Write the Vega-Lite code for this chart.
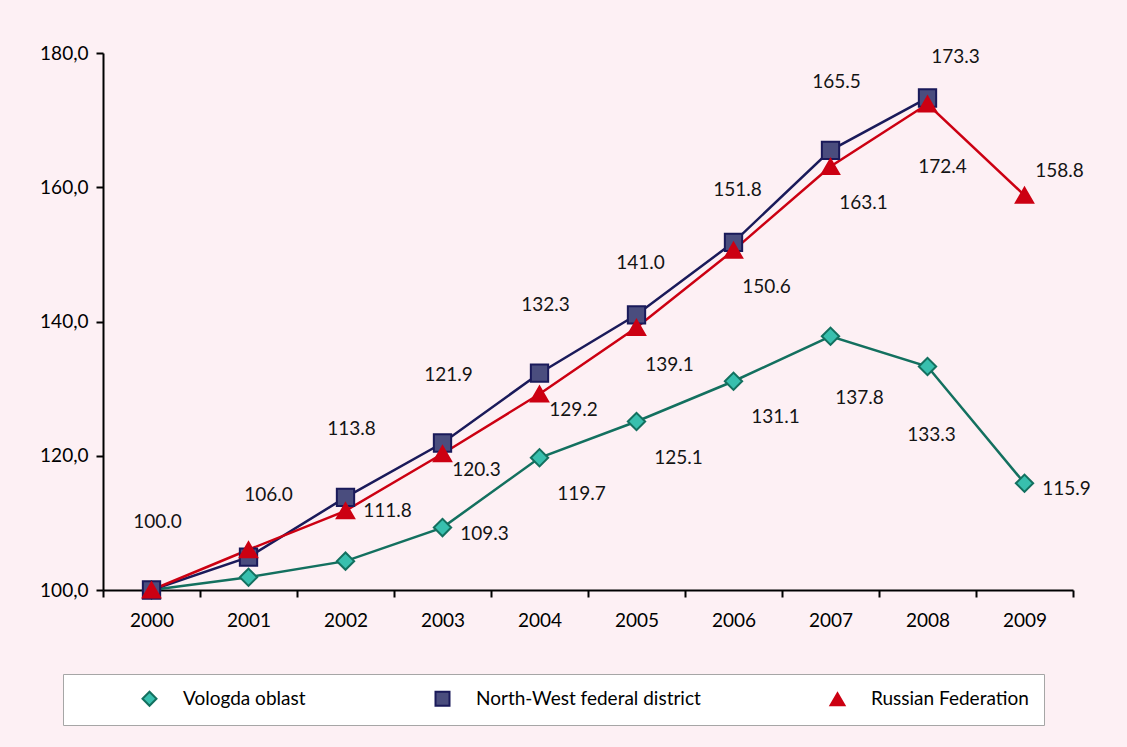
{
  "$schema": "https://vega.github.io/schema/vega-lite/v6.json",
  "width": 970,
  "height": 537,
  "autosize": {"type": "none"},
  "padding": {"left": 103, "top": 53, "right": 54, "bottom": 157},
  "background": "#fdf0f4",
  "config": {
    "view": {"stroke": null},
    "font": "Lato",
    "text": {"font": "Lato", "fontSize": 19, "color": "#141414", "align": "center", "baseline": "middle"},
    "axis": {
      "title": null,
      "domainColor": "#000000",
      "domainWidth": 2,
      "tickColor": "#000000",
      "tickWidth": 2,
      "tickSize": 7,
      "labelFont": "Lato",
      "labelFontSize": 19,
      "labelColor": "#000000",
      "grid": false
    },
    "legend": {
      "title": null,
      "orient": "none",
      "legendX": -40,
      "legendY": 621,
      "direction": "horizontal",
      "columns": 3,
      "columnPadding": 65,
      "padding": 15,
      "fillColor": "#ffffff",
      "strokeColor": "#a6a6a6",
      "symbolSize": 196,
      "symbolStrokeWidth": 2,
      "symbolOffset": 62,
      "labelOffset": 24,
      "labelFont": "Lato",
      "labelFontSize": 19,
      "labelColor": "#000000",
      "labelLimit": 400
    }
  },
  "datasets": {
    "d": [
      {"series": "Vologda oblast", "year": "2000", "value": 100.0},
      {"series": "Vologda oblast", "year": "2001", "value": 101.9},
      {"series": "Vologda oblast", "year": "2002", "value": 104.3},
      {"series": "Vologda oblast", "year": "2003", "value": 109.3},
      {"series": "Vologda oblast", "year": "2004", "value": 119.7},
      {"series": "Vologda oblast", "year": "2005", "value": 125.1},
      {"series": "Vologda oblast", "year": "2006", "value": 131.1},
      {"series": "Vologda oblast", "year": "2007", "value": 137.8},
      {"series": "Vologda oblast", "year": "2008", "value": 133.3},
      {"series": "Vologda oblast", "year": "2009", "value": 115.9},
      {"series": "North-West federal district", "year": "2000", "value": 100.0},
      {"series": "North-West federal district", "year": "2001", "value": 104.9},
      {"series": "North-West federal district", "year": "2002", "value": 113.8},
      {"series": "North-West federal district", "year": "2003", "value": 121.9},
      {"series": "North-West federal district", "year": "2004", "value": 132.3},
      {"series": "North-West federal district", "year": "2005", "value": 141.0},
      {"series": "North-West federal district", "year": "2006", "value": 151.8},
      {"series": "North-West federal district", "year": "2007", "value": 165.5},
      {"series": "North-West federal district", "year": "2008", "value": 173.3},
      {"series": "Russian Federation", "year": "2000", "value": 100.0},
      {"series": "Russian Federation", "year": "2001", "value": 106.0},
      {"series": "Russian Federation", "year": "2002", "value": 111.8},
      {"series": "Russian Federation", "year": "2003", "value": 120.3},
      {"series": "Russian Federation", "year": "2004", "value": 129.2},
      {"series": "Russian Federation", "year": "2005", "value": 139.1},
      {"series": "Russian Federation", "year": "2006", "value": 150.6},
      {"series": "Russian Federation", "year": "2007", "value": 163.1},
      {"series": "Russian Federation", "year": "2008", "value": 172.4},
      {"series": "Russian Federation", "year": "2009", "value": 158.8}
    ]
  },
  "data": {"name": "d"},
  "encoding": {
    "x": {
      "field": "year",
      "type": "ordinal",
      "scale": {"type": "band", "paddingInner": 0, "paddingOuter": 0},
      "axis": {"tickBand": "extent", "labelAngle": 0, "labelPadding": 14}
    },
    "y": {
      "field": "value",
      "type": "quantitative",
      "scale": {"domain": [100, 180], "nice": false, "zero": false},
      "axis": {
        "values": [100, 120, 140, 160, 180],
        "labelPadding": 8,
        "labelExpr": "replace(format(datum.value, '.1f'), '.', ',')"
      }
    }
  },
  "layer": [
    {
      "mark": {"type": "line", "strokeWidth": 2.5},
      "encoding": {
        "color": {
          "field": "series",
          "type": "nominal",
          "scale": {
            "domain": ["Vologda oblast", "North-West federal district", "Russian Federation"],
            "range": ["#13705f", "#1a1a5a", "#cc0012"]
          },
          "legend": {"title": null, "orient": "none", "legendX": -40, "legendY": 621}
        }
      }
    },
    {
      "mark": {"type": "point", "filled": true, "strokeWidth": 2, "opacity": 1, "size": 300},
      "encoding": {
        "shape": {
          "field": "series",
          "type": "nominal",
          "scale": {
            "domain": ["Vologda oblast", "North-West federal district", "Russian Federation"],
            "range": ["diamond", "square", "triangle-up"]
          },
          "legend": {"title": null, "orient": "none", "legendX": -40, "legendY": 621}
        },
        "fill": {
          "field": "series",
          "type": "nominal",
          "scale": {
            "domain": ["Vologda oblast", "North-West federal district", "Russian Federation"],
            "range": ["#38bfae", "#4a4d7e", "#cc0012"]
          },
          "legend": {"title": null, "orient": "none", "legendX": -40, "legendY": 621}
        },
        "stroke": {
          "field": "series",
          "type": "nominal",
          "scale": {
            "domain": ["Vologda oblast", "North-West federal district", "Russian Federation"],
            "range": ["#13705f", "#1a1a5a", "#cc0012"]
          },
          "legend": {"title": null, "orient": "none", "legendX": -40, "legendY": 621}
        }
      }
    },
    {
      "transform": [{"filter": "datum.series === 'North-West federal district' && indexof(['2000','2002','2003','2004','2007'], datum.year) >= 0"}],
      "mark": {"type": "text", "dx": 6, "dy": -68},
      "encoding": {"text": {"field": "value", "type": "quantitative", "format": ".1f"}}
    },
    {
      "transform": [{"filter": "datum.series === 'North-West federal district' && indexof(['2005','2006'], datum.year) >= 0"}],
      "mark": {"type": "text", "dx": 4, "dy": -52},
      "encoding": {"text": {"field": "value", "type": "quantitative", "format": ".1f"}}
    },
    {
      "transform": [{"filter": "datum.series === 'North-West federal district' && datum.year === '2008'"}],
      "mark": {"type": "text", "dx": 28, "dy": -41},
      "encoding": {"text": {"field": "value", "type": "quantitative", "format": ".1f"}}
    },
    {
      "transform": [{"filter": "datum.series === 'Russian Federation' && datum.year === '2001'"}],
      "mark": {"type": "text", "dx": 20, "dy": -55},
      "encoding": {"text": {"field": "value", "type": "quantitative", "format": ".1f"}}
    },
    {
      "transform": [{"filter": "datum.series === 'Russian Federation' && datum.year === '2002'"}],
      "mark": {"type": "text", "dx": 42, "dy": 0},
      "encoding": {"text": {"field": "value", "type": "quantitative", "format": ".1f"}}
    },
    {
      "transform": [{"filter": "datum.series === 'Russian Federation' && indexof(['2003','2004'], datum.year) >= 0"}],
      "mark": {"type": "text", "dx": 34, "dy": 16},
      "encoding": {"text": {"field": "value", "type": "quantitative", "format": ".1f"}}
    },
    {
      "transform": [{"filter": "datum.series === 'Russian Federation' && indexof(['2005','2006','2007'], datum.year) >= 0"}],
      "mark": {"type": "text", "dx": 33, "dy": 37},
      "encoding": {"text": {"field": "value", "type": "quantitative", "format": ".1f"}}
    },
    {
      "transform": [{"filter": "datum.series === 'Russian Federation' && datum.year === '2008'"}],
      "mark": {"type": "text", "dx": 15, "dy": 63},
      "encoding": {"text": {"field": "value", "type": "quantitative", "format": ".1f"}}
    },
    {
      "transform": [{"filter": "datum.series === 'Russian Federation' && datum.year === '2009'"}],
      "mark": {"type": "text", "dx": 35, "dy": -24},
      "encoding": {"text": {"field": "value", "type": "quantitative", "format": ".1f"}}
    },
    {
      "transform": [{"filter": "datum.series === 'Vologda oblast' && indexof(['2003','2009'], datum.year) >= 0"}],
      "mark": {"type": "text", "dx": 42, "dy": 6},
      "encoding": {"text": {"field": "value", "type": "quantitative", "format": ".1f"}}
    },
    {
      "transform": [{"filter": "datum.series === 'Vologda oblast' && indexof(['2004','2005','2006'], datum.year) >= 0"}],
      "mark": {"type": "text", "dx": 42, "dy": 36},
      "encoding": {"text": {"field": "value", "type": "quantitative", "format": ".1f"}}
    },
    {
      "transform": [{"filter": "datum.series === 'Vologda oblast' && datum.year === '2007'"}],
      "mark": {"type": "text", "dx": 29, "dy": 62},
      "encoding": {"text": {"field": "value", "type": "quantitative", "format": ".1f"}}
    },
    {
      "transform": [{"filter": "datum.series === 'Vologda oblast' && datum.year === '2008'"}],
      "mark": {"type": "text", "dx": 4, "dy": 69},
      "encoding": {"text": {"field": "value", "type": "quantitative", "format": ".1f"}}
    }
  ]
}
